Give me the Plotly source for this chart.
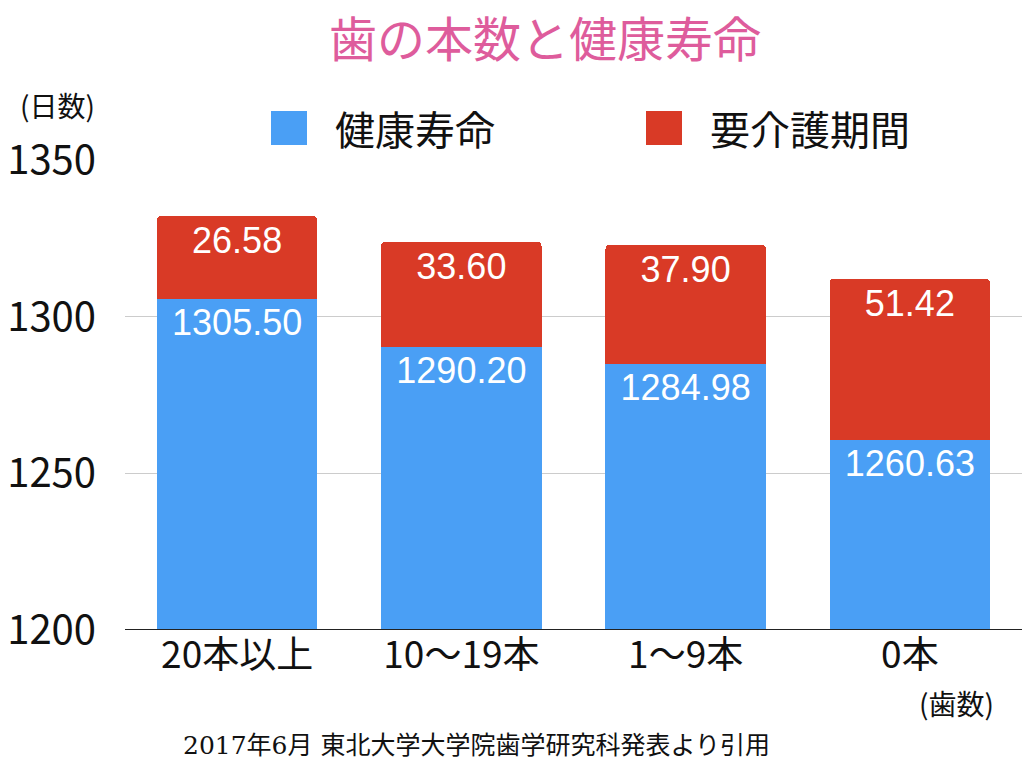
import plotly.graph_objects as go

categories = ["20本以上", "10〜19本", "1〜9本", "0本"]
healthy_life = [1305.50, 1290.20, 1284.98, 1260.63]
care_period = [26.58, 33.60, 37.90, 51.42]
series_names = ["健康寿命", "要介護期間"]
y_ticks = [1200, 1250, 1300, 1350]

BLUE = "#4A9FF5"
RED = "#D93A26"
FONT = "Noto Sans CJK JP, Inter, sans-serif"
NUMFONT = "Liberation Sans, Arial, sans-serif"

fig = go.Figure()
for vals, name, color in [(healthy_life, series_names[0], BLUE),
                          (care_period, series_names[1], RED)]:
    fig.add_trace(go.Bar(
        x=categories, y=vals, name=name,
        marker=dict(color=color, line=dict(width=0)),
        texttemplate="%{y:.2f}", textposition="inside", insidetextanchor="end",
        textangle=0, constraintext="none",
        insidetextfont=dict(color="white", size=36, family=NUMFONT),
        showlegend=False,
    ))

fig.update_layout(
    width=1024, height=768,
    barmode="stack", bargap=0.285, barcornerradius=4,
    plot_bgcolor="white", paper_bgcolor="white",
    margin=dict(l=125, r=2, t=160, b=138),
    font=dict(family=FONT, color="#111111"),
    title=dict(text="歯の本数と健康寿命", x=545/1024, xanchor="center",
               y=1 - 40/768, yanchor="middle", yref="container",
               font=dict(size=48, color="#DE5C9C", family=FONT)),
    xaxis=dict(showgrid=False, tickfont=dict(size=37, color="#111111"),
               ticks="", showline=False),
    yaxis=dict(range=[1200, 1350], tickvals=y_ticks, showgrid=True,
               gridcolor="#CCCCCC", gridwidth=1, zeroline=False,
               tickfont=dict(size=40, color="#111111"), ticks="",
               ticklabelstandoff=28),
)

# axis baseline at 1200
fig.add_shape(type="line", xref="paper", yref="y", x0=0, x1=1, y0=1200, y1=1200,
              line=dict(color="#222222", width=2))

# custom legend
legend_items = [(series_names[0], BLUE, 271), (series_names[1], RED, 646)]
for name, color, px in legend_items:
    fig.add_shape(type="rect", xref="paper", yref="paper",
                  x0=(px - 125) / 897, x1=(px + 36 - 125) / 897,
                  y0=(768 - 145 - 138) / 470, y1=(768 - 111 - 138) / 470,
                  fillcolor=color, line=dict(width=0))
    fig.add_annotation(text=name, xref="paper", yref="paper",
                       x=(px + 62 - 125) / 897, y=(768 - 128 - 138) / 470,
                       xanchor="left", yanchor="middle", showarrow=False,
                       font=dict(size=40, color="#111111", family=FONT))

fig.add_annotation(text="(日数)", xref="paper", yref="paper",
                   x=(57 - 125) / 897, y=(768 - 105 - 138) / 470,
                   xanchor="center", yanchor="middle", showarrow=False,
                   font=dict(size=28, color="#111111", family=FONT))
fig.add_annotation(text="(歯数)", xref="paper", yref="paper",
                   x=(956 - 125) / 897, y=(768 - 703 - 138) / 470,
                   xanchor="center", yanchor="middle", showarrow=False,
                   font=dict(size=28, color="#111111", family=FONT))
fig.add_annotation(text="2017年6月 東北大学大学院歯学研究科発表より引用", xref="paper", yref="paper",
                   x=(476 - 125) / 897, y=(768 - 745 - 138) / 470,
                   xanchor="center", yanchor="middle", showarrow=False,
                   font=dict(size=25, color="#111111", family="DejaVu Serif, Noto Sans CJK JP, serif"))

fig.write_html("out.html")
